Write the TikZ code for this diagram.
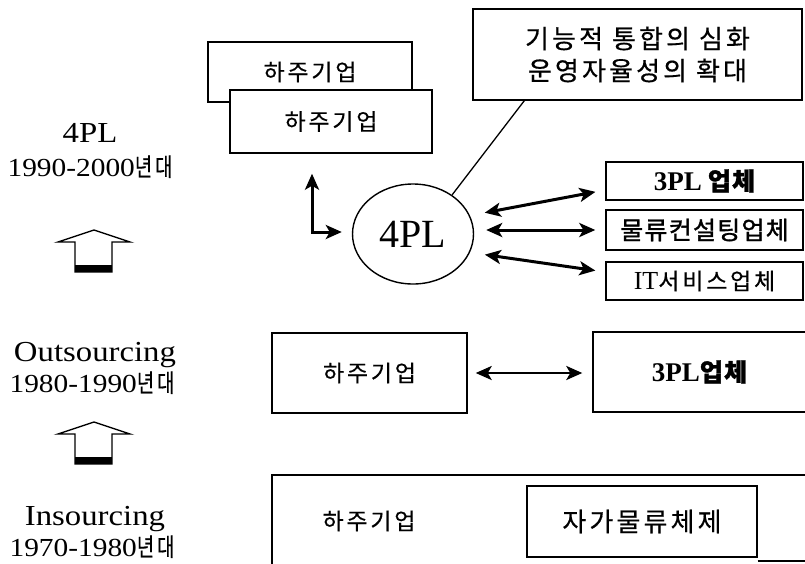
\documentclass[tikz,border=0pt]{standalone}
\usepackage{fontspec}
\setmainfont{Liberation Serif}
\newfontfamily\serw[FakeStretch=1.13]{Liberation Serif}
\newfontfamily\kr[LetterSpace=12,FakeBold=0.5]{Noto Sans CJK KR}
\newfontfamily\krb[LetterSpace=5,FakeBold=1.3]{Noto Sans CJK KR}
\newfontfamily\krn[FakeStretch=0.75,FakeBold=0.4]{Noto Sans CJK KR}
\newcommand\nyd{{\krn\fontsize{25}{26}\selectfont 년\hspace{3pt}대}}
\usetikzlibrary{arrows.meta,calc,shapes.geometric}
\tikzset{
  box/.style={draw, line width=1.4pt, fill=white, inner sep=0pt, align=center},
  krtext/.style={font=\kr\fontsize{23}{26}\selectfont},
  lbl/.style={font=\serw\fontsize{29}{34}\selectfont, inner sep=0pt, anchor=base},
  dt/.style={font=\serw\fontsize{26}{28}\selectfont, inner sep=0pt, anchor=base},
  dbl/.style={line width=3pt, {Stealth[length=16pt,width=14pt,inset=4pt]}-{Stealth[length=16pt,width=14pt,inset=4pt]}},
  hup/.pic={
    \draw[line width=1.4pt, fill=white, line join=miter] (-36,12) -- (0,0) -- (36,12) -- (18,12) -- (18,42) -- (-19,42) -- (-19,12) -- cycle;
    \fill (-19,35) rectangle (18,42);
  }
}
\begin{document}
\begin{tikzpicture}[x=1pt,y=-1pt]
\useasboundingbox (0,0) rectangle (805,563);
\begin{scope}
\clip (0,0) rectangle (805,563);
% left column
\node[lbl] (l4) at (90,142) {4PL};
\node[dt] (d4) at (90,176) {1990-2000\nyd};
\pic at (94,230) {hup};
\node[lbl] (lo) at (95,361) {Outsourcing};
\node[dt] (do) at (92,392) {1980-1990\nyd};
\pic at (94,422) {hup};
\node[lbl] (li) at (95,525) {Insourcing};
\node[dt] (di) at (92,556) {1970-1980\nyd};

% 4PL row
\node[box, krtext, minimum width=204pt, minimum height=60pt] (back) at (310,72) {하주기업};
\node[box, krtext, minimum width=202pt, minimum height=63pt] (front) at (331,121.5) {하주기업};
\node[box, font=\kr\fontsize{26}{32}\selectfont, minimum width=329pt, minimum height=91pt] (callout) at (637.5,54.5) {기능적 통합의 심화\\운영자율성의 확대};
\node[draw, ellipse, line width=1.4pt, minimum width=121pt, minimum height=100pt, inner sep=0pt, font=\fontsize{40}{40}\selectfont] (circ) at (413,234) {4PL};
\node[box, minimum width=197pt, minimum height=38pt] (b1) at (704.5,181) {\fontsize{27}{28}\selectfont\bfseries 3PL\hspace{6pt}{\krb\fontsize{25}{28}\selectfont 업체}};
\node[box, minimum width=197pt, minimum height=40pt] (b2) at (704.5,230) {\krb\fontsize{25}{28}\selectfont 물류컨설팅업체};
\node[box, minimum width=197pt, minimum height=38pt] (b3) at (704.5,281) {\fontsize{26}{28}\selectfont IT{\kr\fontsize{23}{28}\selectfont 서비스업체}};

\draw[line width=1.3pt] ($(callout.south west)+(52,0)$) -- (circ.45);
\coordinate (lc) at (312,232);
\draw[dbl] ($(front.south -| lc)+(0,20)$) -- (lc) -- ($(circ.west |- lc)+(-10,0)$);
\draw[dbl, shorten <=15pt, shorten >=10pt] (circ.18) -- ([yshift=-9pt]b1.west);
\draw[dbl, shorten <=12pt, shorten >=10pt] (circ.east |- b2.west) -- (b2.west);
\draw[dbl, shorten <=15pt, shorten >=10pt] (circ.-18) -- ([yshift=9pt]b3.west);

% Outsourcing row
\node[box, krtext, minimum width=195pt, minimum height=80pt] (ob1) at (369.5,373) {하주기업};
\node[box, minimum width=213pt, minimum height=80pt] (ob2) at (699.5,372) {\fontsize{27}{28}\selectfont\bfseries 3PL{\krb\fontsize{25}{28}\selectfont 업체}};
\draw[dbl, line width=2.6pt, shorten <=8pt, shorten >=10pt] (ob1.east) -- (ob1.east -| ob2.west);

% Insourcing row
\coordinate (bigtl) at (272,475);
\draw[line width=1.4pt] (bigtl |- 0,566) -- (bigtl) -- (808,475);
\node[krtext, inner sep=0pt] (ib1) at (369,521) {하주기업};
\node[box, font=\kr\fontsize{26}{30}\selectfont, minimum width=230pt, minimum height=71pt] (inner) at (642,521.5) {자가물류체제};
\draw[line width=1.4pt] (inner.south east |- 0,561) -- (808,561);
\end{scope}
\end{tikzpicture}
\end{document}
